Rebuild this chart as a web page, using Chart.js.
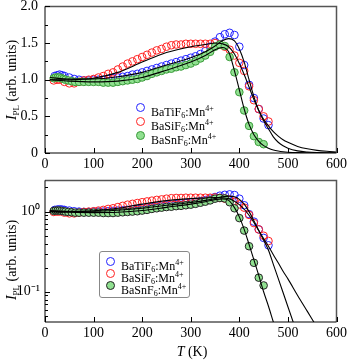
<!DOCTYPE html>
<html>
<head>
<meta charset="utf-8">
<script src="https://cdn.jsdelivr.net/npm/chart.js@4.4.0/dist/chart.umd.min.js"></script>
<style>
  body { margin: 0; background: #fff; width: 350px; height: 360px; overflow: hidden; position: relative;
         font-family: "Liberation Serif", "Times New Roman", serif; color: #000; }
  canvas { position: absolute; left: 0; }
  #cTop { top: -9px; }
  #cBot { top: 167px; }
  .ytitle { position: absolute; font-size: 14px; white-space: nowrap; transform: translate(-50%, -50%) rotate(-90deg); }
  .ytitle sub { font-size: 9px; vertical-align: -3px; }
  .xtitle { position: absolute; font-size: 14px; white-space: nowrap; transform: translate(-50%, -50%); }
  .leg { position: absolute; font-size: 12px; line-height: 13px; }
  .leg div { position: relative; height: 12px; white-space: nowrap; padding-left: 17px; }
  .leg sub { font-size: 8px; vertical-align: -2px; }
  .leg sup { font-size: 8px; vertical-align: 5px; }
  .dot { position: absolute; left: 2px; top: 1px; width: 9px; height: 9px; border-radius: 50%; box-sizing: border-box; border: 1.2px solid; }
  #legBot { border: 1px solid #888; border-radius: 3px; background: #fff; padding: 4px 3px 5px 4px; }
</style>
</head>
<body>
<canvas id="cTop" width="350" height="184"></canvas>
<canvas id="cBot" width="350" height="193"></canvas>

<div class="ytitle" style="left:12px; top:80px;"><i>I</i><sub>PL</sub> (arb. units)</div>
<div class="ytitle" style="left:12px; top:260px;"><i>I</i><sub>PL</sub> (arb. units)</div>
<div class="xtitle" style="left:192px; top:352px;"><i>T</i> (K)</div>

<div class="leg" id="legTop" style="left:134px; top:102px;">
  <div style="height:14px"><span class="dot" style="border-color:#2222ff"></span>BaTiF<sub>6</sub>:Mn<sup>4+</sup></div>
  <div style="height:14px"><span class="dot" style="border-color:#ff2222"></span>BaSiF<sub>6</sub>:Mn<sup>4+</sup></div>
  <div style="height:14px"><span class="dot" style="border-color:#3a9a3a; background:#90e090"></span>BaSnF<sub>6</sub>:Mn<sup>4+</sup></div>
</div>
<div class="leg" id="legBot" style="left:99px; top:251px;">
  <div><span class="dot" style="border-color:#2222ff"></span>BaTiF<sub>6</sub>:Mn<sup>4+</sup></div>
  <div><span class="dot" style="border-color:#ff2222"></span>BaSiF<sub>6</sub>:Mn<sup>4+</sup></div>
  <div><span class="dot" style="border-color:#222; background:#90e090"></span>BaSnF<sub>6</sub>:Mn<sup>4+</sup></div>
</div>

<script>
var tTi = [20, 25, 30, 35, 40, 50, 60, 70, 80, 90, 100, 110, 120, 130, 140, 150, 160, 170, 180, 190, 200,
  210, 220, 230, 240, 250, 260, 270, 280, 290, 300, 310, 320, 330, 340, 350, 360, 370, 380, 390, 400,
  410, 420, 430, 440, 450, 460];
var ti = [1.05, 1.06, 1.07, 1.06, 1.05, 1.03, 1.01, 1.0, 0.99, 0.99, 1.0, 1.0, 1.0, 1.01, 1.02, 1.03, 1.04, 1.05, 1.07, 1.08, 1.1,
  1.12, 1.14, 1.16, 1.18, 1.2, 1.22, 1.24, 1.26, 1.28, 1.3, 1.32, 1.35, 1.39, 1.45, 1.52, 1.58, 1.62, 1.64, 1.61, 1.45,
  1.2, 0.93, 0.75, 0.6, 0.47, 0.38];

var tSi = [18, 25, 30, 40, 50, 60, 70, 80, 90, 100, 110, 120, 130, 140, 150, 160, 170, 180, 190, 200,
  210, 220, 230, 240, 250, 260, 270, 280, 290, 300, 310, 320, 330, 340, 350, 360, 370, 380, 390, 400,
  410, 420, 430, 440, 450, 460];
var si = [0.99, 1.0, 1.0, 0.97, 0.95, 0.95, 0.97, 0.99, 1.0, 1.01, 1.03, 1.05, 1.08, 1.1, 1.14, 1.18, 1.22, 1.25, 1.28, 1.31,
  1.34, 1.37, 1.4, 1.42, 1.45, 1.47, 1.48, 1.48, 1.49, 1.49, 1.49, 1.49, 1.49, 1.49, 1.5, 1.48, 1.45, 1.41, 1.33, 1.23,
  1.12, 0.91, 0.72, 0.6, 0.5, 0.43];

var tSn = [18, 22, 26, 30, 34, 38, 42, 48, 55, 62, 70, 80, 90, 100, 110, 120, 130, 140, 150, 160, 170, 180, 190, 200,
  210, 220, 230, 240, 250, 260, 270, 280, 290, 300, 310, 320, 330, 340, 350, 360, 370, 380, 390, 400,
  410, 420, 430, 440, 450];
var sn = [1.02, 1.03, 1.03, 1.03, 1.02, 1.01, 1.0, 0.99, 0.98, 0.97, 0.97, 0.97, 0.97, 0.97, 0.97, 0.96, 0.96, 0.96, 0.97, 0.98, 0.99, 1.0, 1.01, 1.03,
  1.05, 1.08, 1.1, 1.12, 1.14, 1.15, 1.17, 1.18, 1.2, 1.22, 1.25, 1.29, 1.33, 1.38, 1.45, 1.48, 1.46, 1.31, 1.1, 0.83,
  0.58, 0.37, 0.23, 0.15, 0.12];

// fitted curves
var tFit = [10, 50, 100, 150, 200, 250, 300, 330, 350, 365, 378, 390, 400, 410, 420, 430, 440, 450, 460,
  470, 480, 490, 500, 520, 540, 560, 580, 600];
var fitTi = [1.03, 1.01, 1.01, 1.04, 1.1, 1.2, 1.3, 1.38, 1.46, 1.53, 1.56, 1.53, 1.42, 1.24, 1.0, 0.77, 0.58, 0.44, 0.33,
  0.22, 0.147, 0.098, 0.065, 0.029, 0.013, 0.0057, 0.0025, 0.0011];
var fitSi = [1.0, 1.0, 1.02, 1.1, 1.24, 1.37, 1.45, 1.48, 1.5, 1.49, 1.45, 1.35, 1.22, 1.07, 0.9, 0.73, 0.58, 0.46, 0.37,
  0.29, 0.23, 0.18, 0.145, 0.09, 0.057, 0.036, 0.023, 0.014];
var fitSn = [1.0, 0.98, 0.97, 0.98, 1.03, 1.13, 1.24, 1.33, 1.41, 1.44, 1.38, 1.12, 0.86, 0.6, 0.39, 0.25, 0.16, 0.1, 0.066,
  0.042, 0.027, 0.017, 0.011, 0.0045, 0.0018, 0.0007, 0.0003, 0.0001];

var xTicks = [0, 100, 200, 300, 400, 500, 600];
var yTicksLin = [0, 0.5, 1.0, 1.5, 2.0];
var yMinorLin = [0.25, 0.75, 1.25, 1.75];
var yTicksLog = [0.1, 1];
var yMinorLog = [0.05, 0.06, 0.07, 0.08, 0.09, 0.2, 0.3, 0.4, 0.5, 0.6, 0.7, 0.8, 0.9, 2];

function pts(xs, ys) {
  return xs.map(function (x, i) { return { x: x, y: ys[i] }; });
}

// ticks pointing into the plot, plus the box frame
var frameTicks = {
  id: 'frameTicks',
  afterDatasetsDraw: function (chart, args, opts) {
    var ctx = chart.ctx, a = chart.chartArea, x = chart.scales.x, y = chart.scales.y;
    ctx.save();
    ctx.strokeStyle = '#555';
    ctx.lineWidth = 1.5;
    ctx.beginPath();
    ctx.moveTo(a.left, a.top); ctx.lineTo(a.right, a.top); ctx.lineTo(a.right, a.bottom);
    ctx.stroke();
    ctx.strokeStyle = '#000';
    ctx.lineWidth = 1;
    ctx.beginPath();
    ctx.moveTo(a.left, a.top); ctx.lineTo(a.left, a.bottom); ctx.lineTo(a.right, a.bottom);
    xTicks.forEach(function (v) {
      var p = Math.round(x.getPixelForValue(v)) + 0.5;
      ctx.moveTo(p, a.bottom); ctx.lineTo(p, a.bottom - 5);
    });
    opts.major.forEach(function (v) {
      var p = Math.round(y.getPixelForValue(v)) + 0.5;
      ctx.moveTo(a.left, p); ctx.lineTo(a.left + 5, p);
    });
    opts.minor.forEach(function (v) {
      var p = Math.round(y.getPixelForValue(v)) + 0.5;
      ctx.moveTo(a.left, p); ctx.lineTo(a.left + 3, p);
    });
    ctx.stroke();
    ctx.restore();
  }
};

function datasets() {
  var line = { type: 'line', showLine: true, pointRadius: 0, borderColor: '#000', borderWidth: 1.1,
    cubicInterpolationMode: 'monotone', fill: false, order: 0 };
  return [
    Object.assign({ data: pts(tFit, fitTi) }, line),
    Object.assign({ data: pts(tFit, fitSi) }, line),
    Object.assign({ data: pts(tFit, fitSn) }, line),
    { data: pts(tSn, sn), pointRadius: 3.8, borderWidth: 1, backgroundColor: '#90e090', order: 1 },
    { data: pts(tSi, si), pointRadius: 3.8, borderWidth: 1, borderColor: '#ff2222', backgroundColor: 'rgba(0,0,0,0)', order: 2 },
    { data: pts(tTi, ti), pointRadius: 3.8, borderWidth: 1, borderColor: '#2222ff', backgroundColor: 'rgba(0,0,0,0)', order: 3 }
  ];
}

var tickFont = { family: '"Liberation Serif", "Times New Roman", serif', size: 14 };

function xScale(h) {
  return {
    type: 'linear', min: 0, max: 600,
    afterBuildTicks: function (s) { s.ticks = xTicks.map(function (v) { return { value: v }; }); },
    grid: { display: false, drawTicks: false },
    border: { display: false },
    ticks: { font: tickFont, color: '#000', padding: 3, maxRotation: 0 },
    afterFit: function (s) { s.height = h; }
  };
}

function build(id, snBorder, yOpts, xh, minor, major) {
  var ds = datasets();
  ds[3].borderColor = snBorder;
  return new Chart(document.getElementById(id), {
    type: 'scatter',
    data: { datasets: ds },
    options: {
      responsive: false, animation: false, devicePixelRatio: 1,
      layout: { padding: { top: 0, right: 11, left: 0, bottom: 0 } },
      plugins: { legend: { display: false }, tooltip: { enabled: false }, frameTicks: { minor: minor, major: major } },
      scales: { x: xScale(xh), y: yOpts }
    },
    plugins: [frameTicks]
  });
}

build('cTop', '#3a9a3a', {
  type: 'linear', min: 0, max: 2,
  afterBuildTicks: function (s) { s.ticks = yTicksLin.map(function (v) { return { value: v }; }); },
  grid: { display: false, drawTicks: false },
  border: { display: false },
  ticks: { font: tickFont, color: '#000', padding: 7,
    callback: function (v) { return v === 0 ? '0' : v.toFixed(1); } },
  afterFit: function (s) { s.width = 45; }
}, 22, yMinorLin, yTicksLin);

build('cBot', '#222', {
  type: 'logarithmic', min: 0.042, max: 2.45,
  afterBuildTicks: function (s) { s.ticks = yTicksLog.map(function (v) { return { value: v }; }); },
  grid: { display: false, drawTicks: false },
  border: { display: false },
  ticks: { font: tickFont, color: '#000', padding: 5,
    callback: function (v) { return v === 1 ? '10\u2070' : '10\u207B\u00B9'; } },
  afterFit: function (s) { s.width = 45; }
}, 38, yMinorLog, yTicksLog);
</script>
</body>
</html>
